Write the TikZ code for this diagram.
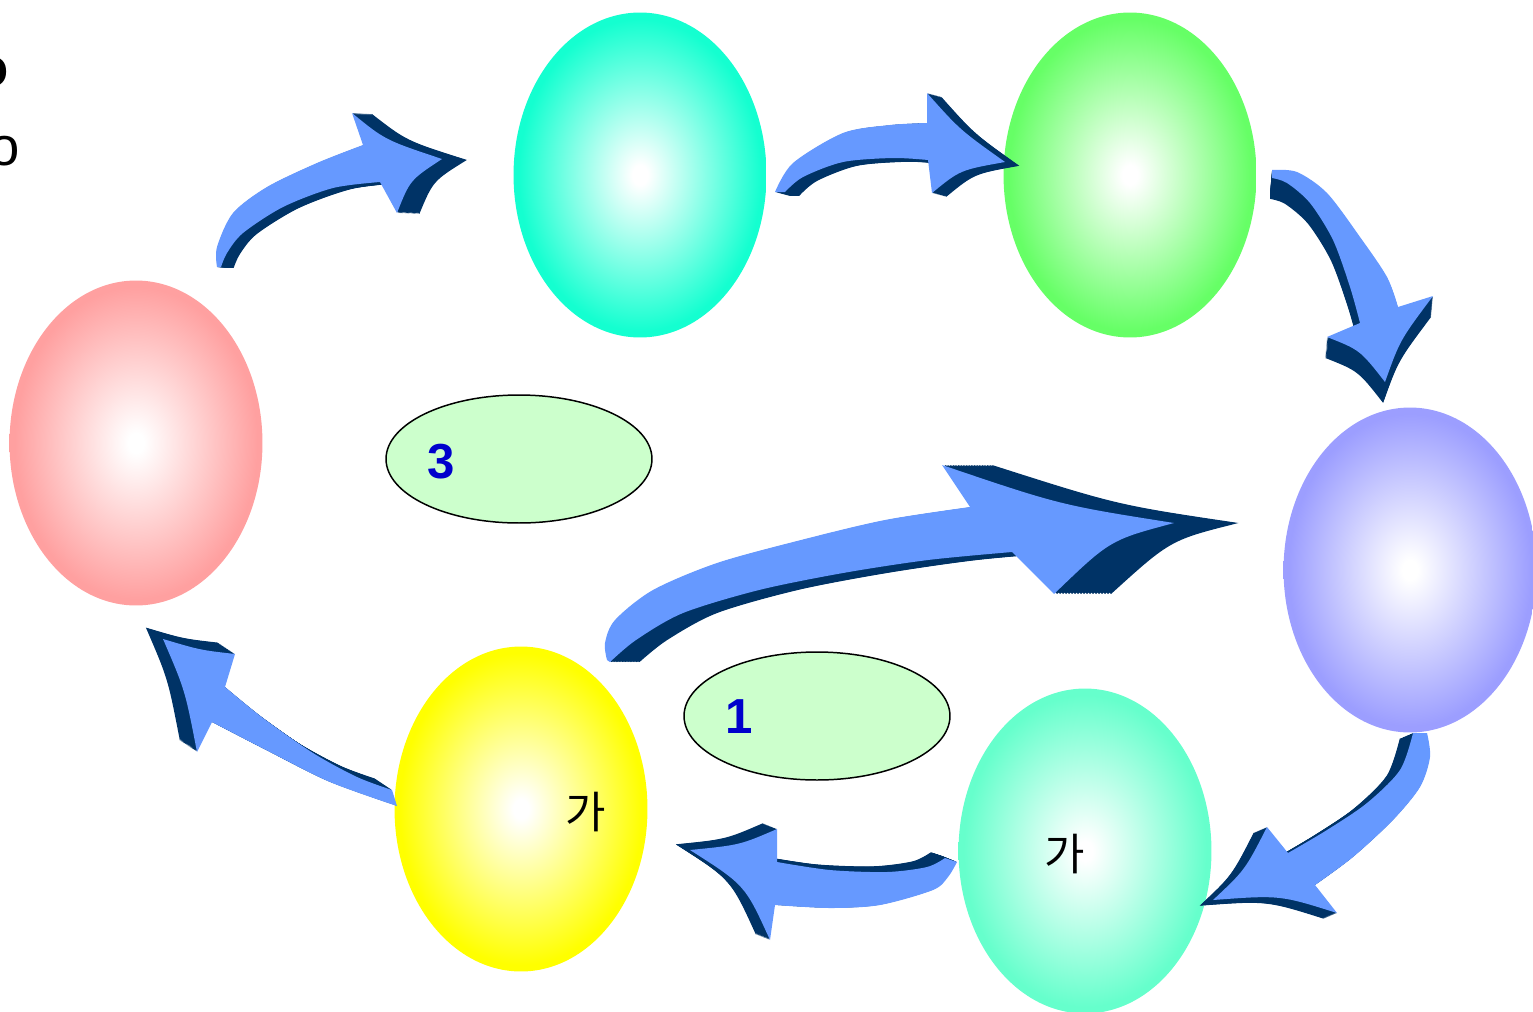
\documentclass[tikz,border=0pt]{standalone}
\usepackage{fontspec}
\setmainfont{Liberation Sans}
\newfontfamily\kofont{Noto Sans CJK KR}
\usetikzlibrary{shapes.geometric}

\definecolor{arrowblue}{HTML}{6699FF}
\definecolor{arrownavy}{HTML}{003366}
\definecolor{labelblue}{HTML}{0000CC}
\definecolor{paleleaf}{HTML}{CCFFCC}
\definecolor{ovalred}{HTML}{FFA0A0}
\definecolor{ovalcyan}{HTML}{14FFD0}
\definecolor{ovalgreen}{HTML}{66FF66}
\definecolor{ovalviolet}{HTML}{9C9EFF}
\definecolor{ovalaqua}{HTML}{66FFCC}
\definecolor{ovalyellow}{HTML}{FFFF00}

\colorlet{ovalouter}{white}
\pgfdeclareradialshading[ovalouter]{ovalglow}{\pgfpoint{0bp}{0bp}}{color(0bp)=(white); color(1.5bp)=(white); color(24bp)=(ovalouter); color(50bp)=(ovalouter)}

\tikzset{
  bigoval/.style={ellipse, inner sep=0pt, minimum width=5.06cm, minimum height=6.5cm,
    /utils/exec={\colorlet{ovalouter}{#1}}, shade, shading=ovalglow},
  smalloval/.style={ellipse, draw=black, line width=0.85pt, fill=paleleaf, inner sep=0pt,
    minimum width=5.32cm, minimum height=2.56cm},
  digit/.style={text=labelblue, font=\bfseries\fontsize{28}{30}\selectfont},
  hangul/.style={font=\kofont\fontsize{25}{28}\selectfont},
  arrowface/.style={fill=arrowblue},
  arrowdepth/.style={fill=arrownavy}
}

% block arrow: [depth stretch] depth offset #2,#3 and outline #4
\newcommand{\blockarrow}[4][0]{%
  \foreach \t in {0.05,0.1,...,1.0}
    \fill[arrowdepth, shift={(\t*#2,\t*#3)}, xscale=1+\t*#1] #4;
  \fill[arrowface] #4;
}

\begin{document}
\begin{tikzpicture}[x={(0.02cm,0)}, y={(0,-0.02cm)}]
\useasboundingbox (0,0) rectangle (1533,1011);

% Cut-off text at the left edge
\begin{scope}
\clip (0,0) rectangle (1533,1011);
\node[font=\bfseries\fontsize{31}{34}\selectfont] (cutfirst) at (-8,72) {o};
\node[font=\fontsize{31}{34}\selectfont] (cutsecond) at (5,151) {o};
\end{scope}

% Stage ovals
\node[bigoval=ovalred] (red) at (136,443) {};
\node[bigoval=ovalcyan] (cyan) at (640,175) {};
\node[bigoval=ovalgreen] (green) at (1130,175) {};
\node[bigoval=ovalviolet] (violet) at (1410,570) {};
\node[bigoval=ovalaqua] (aqua) at (1085,851) {};
\node[bigoval=ovalyellow] (yellow) at (521,809) {};

% Inner labels
\node[hangul] (gayellow) at (586,812) {가};
\node[hangul] (gaaqua) at (1065,854) {가};

% Numbered ovals
\node[smalloval] (slice3) at (519,459) {};
\node[digit] (three) at (441,462) {3};
\node[smalloval] (slice1) at (817,716) {};
\node[digit] (one) at (739,717) {1};

% Red to cyan
\blockarrow[0.058]{0.5}{1}{plot[smooth] coordinates {(217,267) (217,247) (233,213) (267,187) (317,163) (363,145)}
  -- (352,113) .. controls (385,140) .. (442,159) .. controls (410,180) .. (397,213) -- (380,182)
  -- plot[smooth] coordinates {(380,182) (333,188) (283,207) (243,233) (227,253) (221,267)} -- cycle}

% Cyan to green
\blockarrow{15}{4}{plot[smooth] coordinates {(775,192) (793,163) (843,133) (890,125) (927,123)}
  -- (927,93) .. controls (960,130) .. (1005,162) .. controls (960,170) .. (932,193) -- (928,160)
  -- plot[smooth] coordinates {(928,160) (893,158) (843,162) (803,177) (785,192)} -- cycle}

% Green to violet
\blockarrow{-2}{22}{plot[smooth] coordinates {(1272,170) (1297,172) (1327,193) (1360,237) (1387,277) (1398,307)}
  -- (1433,296) .. controls (1400,340) .. (1385,382) .. controls (1360,350) .. (1327,337) -- (1360,323)
  -- plot[smooth] coordinates {(1360,323) (1350,287) (1333,240) (1310,203) (1287,183) (1272,178)} -- cycle}

% Violet to aqua
\blockarrow{-14}{6}{plot[smooth] coordinates {(1427,733) (1430,757) (1420,787) (1393,820) (1353,857) (1315,885)}
  -- (1337,913) .. controls (1280,895) .. (1213,900) .. controls (1245,870) .. (1267,827) -- (1288,853)
  -- plot[smooth] coordinates {(1288,853) (1327,830) (1367,803) (1400,770) (1413,733)} -- cycle}

% Aqua to yellow
\blockarrow{-15}{-6}{plot[smooth] coordinates {(957,862) (948,877) (933,890) (880,905) (830,908) (775,905)}
  -- (770,940) .. controls (745,885) .. (690,850) .. controls (740,845) .. (777,829) -- (777,862)
  -- plot[smooth] coordinates {(777,862) (830,870) (887,872) (927,867) (945,858)} -- cycle}

% Yellow to red
\blockarrow{-18}{-12}{plot[smooth] coordinates {(397,806) (330,782) (270,752) (212,722)}
  -- (197,752) .. controls (185,690) .. (163,639) .. controls (200,650) .. (235,654) -- (225,687)
  -- plot[smooth] coordinates {(225,687) (263,718) (313,753) (357,777) (392,790)} -- cycle}

% Yellow to violet, long
\blockarrow[0.065]{-8.5}{0}{plot[smooth] coordinates {(607,660) (605,643) (615,620) (653,590) (717,563) (801,540) (885,520) (970,507)}
  -- (942,465) .. controls (1060,505) .. (1174,523) .. controls (1110,540) .. (1054,594) -- (1012,552)
  -- plot[smooth] coordinates {(1012,552) (928,560) (843,573) (759,590) (683,613) (636,640) (610,662)} -- cycle}
\end{tikzpicture}
\end{document}
